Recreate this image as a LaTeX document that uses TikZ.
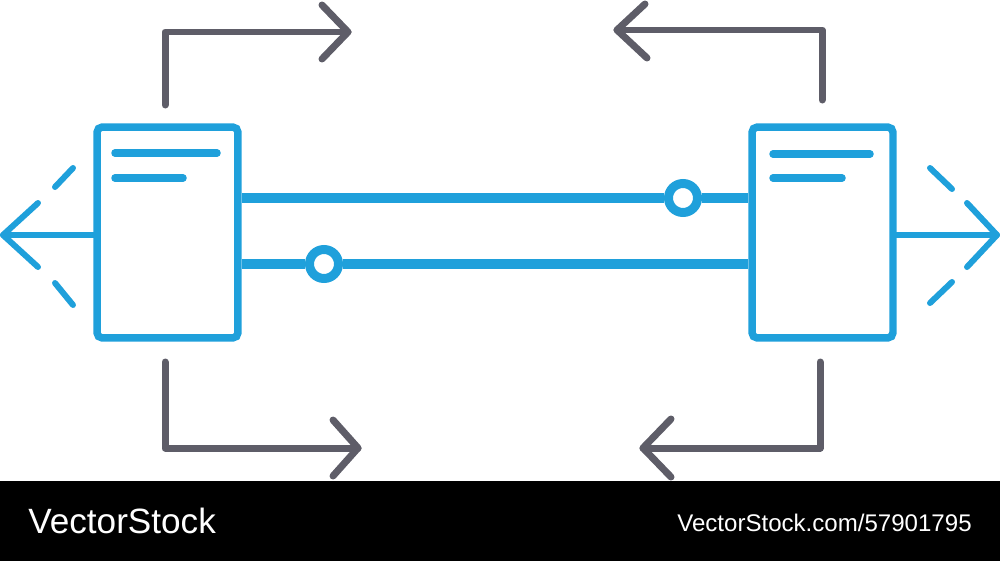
\documentclass[tikz,border=0pt]{standalone}
\usepackage{fontspec}
\newfontfamily\barfont{Liberation Sans}
\definecolor{netblue}{HTML}{1FA0DB}
\definecolor{netgray}{HTML}{5E5D68}
\tikzset{
  px/.style={x=0.02cm,y=-0.02cm},
  server/.style={draw=netblue,line width=0.15cm,rounded corners=3pt,
    minimum width=2.82cm,minimum height=4.22cm,inner sep=0pt},
  port/.style={circle,draw=netblue,fill=white,line width=0.18cm,
    minimum size=0.58cm,inner sep=0pt},
  link/.style={netblue,line width=0.2cm},
  textline/.style={netblue,line width=0.15cm,line cap=round},
  flow/.style={netblue,line width=0.12cm,line cap=round,line join=round},
  route/.style={netgray,line width=0.14cm,line cap=round,line join=round},
}

\begin{document}
\begin{tikzpicture}[px]
  \fill[black] (0,481) rectangle (1000,561);
  \useasboundingbox (0,0) rectangle (1000,561);

  % the two servers
  \node[server] (lsrv) at (167.5,232.5) {};
  \node[server] (rsrv) at (822.5,232.5) {};

  \draw[textline] (115,153) -- (217,153);
  \draw[textline] (115,178) -- (183,178);
  \draw[textline] (773,154) -- (870,154);
  \draw[textline] (773,178) -- (842,178);

  % links with ports
  \node[port] (rport) at (683,198) {};
  \node[port] (lport) at (324,264) {};

  \draw[link] (lsrv.east |- rport) -- (rport);
  \draw[link] (rport) -- (rport -| rsrv.west);
  \draw[link] (lsrv.east |- lport) -- (lport);
  \draw[link] (lport) -- (lport -| rsrv.west);

  % outward arrows
  \coordinate (ltip) at (3,235);
  \coordinate (rtip) at (997,235);
  \draw[flow] (lsrv.west |- ltip) -- (ltip);
  \draw[flow] (38,203) -- (ltip) -- (38,267);
  \draw[flow] (55,187) -- (73,168);
  \draw[flow] (55,283) -- (73,305);

  \draw[flow] (rsrv.east |- rtip) -- (rtip);
  \draw[flow] (967,203) -- (rtip) -- (967,267);
  \draw[flow] (930,168) -- (952,189);
  \draw[flow] (930,303) -- (952,282);

  % gray routes
  \coordinate (tlstart) at (165,105);
  \coordinate (tltip) at (348,32);
  \draw[route] (tlstart) |- (tltip);
  \draw[route] (322,5) -- (tltip) -- (322,59);

  \coordinate (trstart) at (822,100);
  \coordinate (trtip) at (617,30);
  \draw[route] (trstart) |- (trtip);
  \draw[route] (645,4) -- (trtip) -- (647,58);

  \coordinate (blstart) at (165,362);
  \coordinate (bltip) at (358,448);
  \draw[route] (blstart) |- (bltip);
  \draw[route] (333,420) -- (bltip) -- (333,476);

  \coordinate (brstart) at (820,362);
  \coordinate (brtip) at (643,448);
  \draw[route] (brstart) |- (brtip);
  \draw[route] (671,419) -- (brtip) -- (671,477);

  % footer
  \node[anchor=base west,text=white,inner sep=0pt,
    font=\barfont\fontsize{20}{24}\selectfont] (brand) at (28,533) {VectorStock};
  \node[anchor=base east,text=white,inner sep=0pt,
    font=\barfont\fontsize{13.7}{16}\selectfont] (ref) at (972,531) {VectorStock.com/57901795};
\end{tikzpicture}
\end{document}
